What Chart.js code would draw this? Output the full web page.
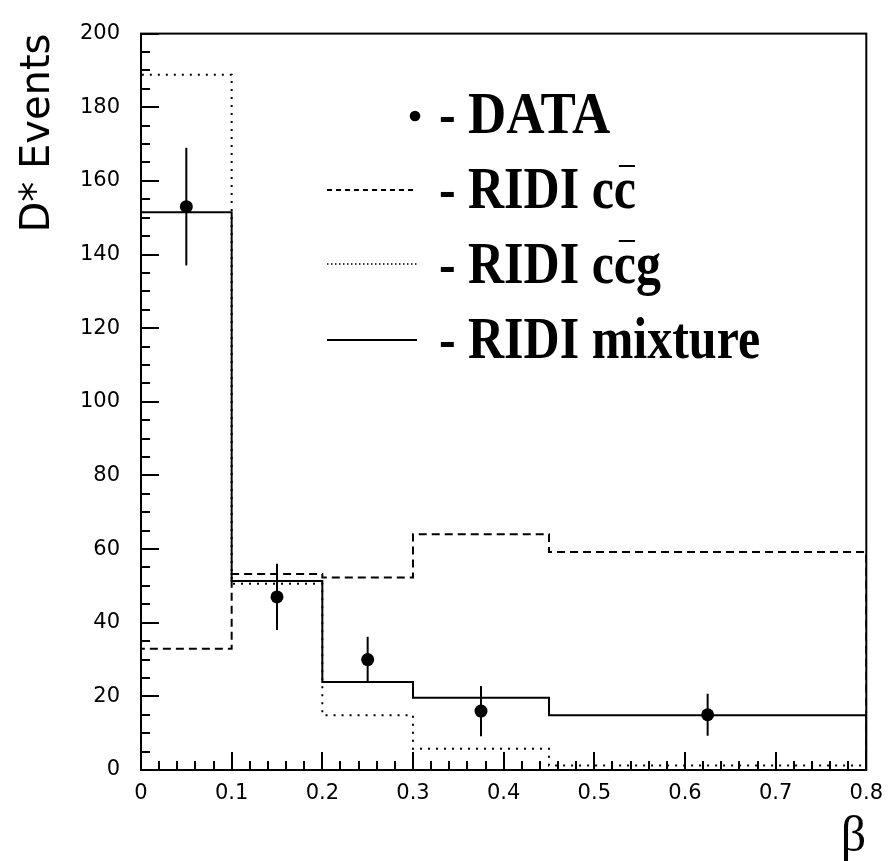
<!DOCTYPE html>
<html>
<head>
<meta charset="utf-8">
<script src="https://cdn.jsdelivr.net/npm/chart.js@4/dist/chart.umd.min.js"></script>
<style>
  html, body { margin: 0; padding: 0; background: #ffffff; }
  #wrap { width: 894px; height: 861px; position: relative; }
</style>
</head>
<body>
<div id="wrap"><canvas id="c" width="894" height="861"></canvas></div>
<script>
// ---- Data ----
const binEdges = [0, 0.1, 0.2, 0.3, 0.45, 0.8];
const ccValues = [32.9, 53.2, 52.3, 64.0, 59.2];       // RIDI c c-bar (dashed)
const ccgValues = [188.8, 50.6, 14.9, 5.8, 1.2];       // RIDI c c-bar g (dotted)
const mixtureValues = [151.5, 51.3, 23.9, 19.6, 14.9]; // RIDI mixture (solid)
const dataX = [0.05, 0.15, 0.25, 0.375, 0.625];
const dataY = [153, 47, 30, 16, 15];
const dataErr = [16, 9, 6.2, 6.8, 5.7];
const xRange = [0, 0.8];
const yRange = [0, 200];
const xTickStep = 0.1, xMinorStep = 0.02;
const yTickStep = 20, yMinorStep = 5;
const yTitle = 'D* Events';
const xTitle = 'β';
const legendLabels = ['- DATA', '- RIDI cc', '- RIDI ccg', '- RIDI mixture'];

// ---- helpers ----
function histPoints(edges, vals) {
  const pts = [{x: edges[0], y: 0}];
  for (let i = 0; i < vals.length; i++) pts.push({x: edges[i], y: vals[i]});
  pts.push({x: edges[edges.length - 1], y: vals[vals.length - 1]});
  pts.push({x: edges[edges.length - 1], y: 0});
  return pts;
}
function errorPoints(xs, ys, es) {
  const pts = [];
  for (let i = 0; i < xs.length; i++) {
    pts.push({x: xs[i], y: ys[i] - es[i]});
    pts.push({x: xs[i], y: ys[i] + es[i]});
    pts.push({x: xs[i], y: null});
  }
  return pts;
}

// ---- plugin: frame + inward major/minor ticks ----
const framePlugin = {
  id: 'frameTicks',
  afterDatasetsDraw(chart) {
    const {ctx, chartArea: a, scales} = chart;
    const xs = scales.x, ys = scales.y;
    ctx.save();
    ctx.strokeStyle = '#000';
    ctx.lineWidth = 2;
    ctx.strokeRect(a.left, a.top, a.right - a.left, a.bottom - a.top);
    ctx.beginPath();
    const nX = Math.round((xRange[1] - xRange[0]) / xMinorStep);
    const perX = Math.round(xTickStep / xMinorStep);
    for (let i = 0; i <= nX; i++) {
      const v = xRange[0] + i * xMinorStep;
      const px = Math.round(xs.getPixelForValue(v));
      const len = (i % perX === 0) ? 18 : 9;
      ctx.moveTo(px, a.bottom);
      ctx.lineTo(px, a.bottom - len);
    }
    const nY = Math.round((yRange[1] - yRange[0]) / yMinorStep);
    const perY = Math.round(yTickStep / yMinorStep);
    for (let i = 0; i <= nY; i++) {
      const v = yRange[0] + i * yMinorStep;
      const py = Math.round(ys.getPixelForValue(v));
      const len = (i % perY === 0) ? 18 : 9;
      ctx.moveTo(a.left, py);
      ctx.lineTo(a.left + len, py);
    }
    ctx.stroke();
    ctx.restore();
  }
};

// ---- plugin: legend in ROOT style ----
const legendPlugin = {
  id: 'rootLegend',
  afterDraw(chart) {
    const {ctx} = chart;
    const textX = 468, dashX = 439;
    const baselines = [133, 208, 283, 358];
    const sampleY = [116, 190, 264, 340];
    const sx0 = 327, sx1 = 417;
    const font = 'bold 50px "Liberation Serif", "Times New Roman", serif';
    const sy = 1.2;
    ctx.save();
    ctx.fillStyle = '#000';
    ctx.strokeStyle = '#000';
    ctx.font = font;
    ctx.textAlign = 'left';
    ctx.textBaseline = 'alphabetic';
    function txt(s, x, y, sx) {
      ctx.save();
      ctx.translate(x, y);
      ctx.scale(sx || 1, sy);
      ctx.fillText(s, 0, 0);
      ctx.restore();
    }
    for (let i = 0; i < legendLabels.length; i++) {
      const s = legendLabels[i];
      txt('-', dashX, baselines[i]);
      txt(s.slice(2), textX, baselines[i], i === 0 ? 1.06 : 1);
    }
    // overbars on the second c of rows 2,3
    const pre = 'RIDI c';
    const wPre = ctx.measureText(pre).width;
    const wc = ctx.measureText('c').width;
    ctx.lineWidth = 2;
    [1, 2].forEach(i => {
      const x0 = textX + wPre + 5, x1 = textX + wPre + wc - 1;
      const y = baselines[i] - 42;
      ctx.beginPath(); ctx.moveTo(x0, y); ctx.lineTo(x1, y); ctx.stroke();
    });
    // sample: DATA dot
    ctx.beginPath(); ctx.arc(415, sampleY[0], 5.3, 0, Math.PI * 2); ctx.fill();
    // sample: cc dashed
    ctx.lineWidth = 2;
    ctx.setLineDash([5, 4]);
    ctx.beginPath(); ctx.moveTo(sx0, sampleY[1]); ctx.lineTo(sx1, sampleY[1]); ctx.stroke();
    // sample: ccg dotted
    ctx.lineWidth = 1.5;
    ctx.setLineDash([1.5, 2.5]);
    ctx.beginPath(); ctx.moveTo(sx0, sampleY[2]); ctx.lineTo(sx1, sampleY[2]); ctx.stroke();
    // sample: mixture solid
    ctx.lineWidth = 2;
    ctx.setLineDash([]);
    ctx.beginPath(); ctx.moveTo(sx0, sampleY[3]); ctx.lineTo(sx1, sampleY[3]); ctx.stroke();
    ctx.restore();
  }
};

const tickFont = {family: '"DejaVu Sans", sans-serif', size: 21};

new Chart(document.getElementById('c'), {
  type: 'line',
  data: {
    datasets: [
      {
        label: 'RIDI cc',
        data: histPoints(binEdges, ccValues),
        stepped: 'before',
        borderColor: '#000', borderWidth: 2, borderDash: [8, 5],
        pointRadius: 0, fill: false
      },
      {
        label: 'RIDI ccg',
        data: histPoints(binEdges, ccgValues),
        stepped: 'before',
        borderColor: '#000', borderWidth: 2, borderDash: [2, 6],
        pointRadius: 0, fill: false
      },
      {
        label: 'RIDI mixture',
        data: histPoints(binEdges, mixtureValues),
        stepped: 'before',
        borderColor: '#000', borderWidth: 2,
        pointRadius: 0, fill: false
      },
      {
        label: 'errors',
        data: errorPoints(dataX, dataY, dataErr),
        borderColor: '#000', borderWidth: 2,
        pointRadius: 0, spanGaps: false, fill: false
      },
      {
        label: 'DATA',
        data: dataX.map((x, i) => ({x: x, y: dataY[i]})),
        showLine: false,
        pointRadius: 6.5, pointStyle: 'circle',
        pointBackgroundColor: '#000', pointBorderColor: '#000', pointBorderWidth: 0
      }
    ]
  },
  options: {
    responsive: false,
    animation: false,
    devicePixelRatio: 1,
    events: [],
    layout: {padding: {left: 0, top: 23, right: 25, bottom: 0}},
    plugins: {legend: {display: false}, tooltip: {enabled: false}},
    scales: {
      x: {
        type: 'linear',
        min: xRange[0], max: xRange[1],
        grid: {display: false, drawTicks: false},
        border: {display: false},
        ticks: {stepSize: xTickStep, color: '#000', font: tickFont, padding: 11, maxRotation: 0, autoSkip: false},
        title: {display: true, text: xTitle, align: 'end', color: '#000',
                font: {family: '"Liberation Serif", "Times New Roman", serif', size: 50},
                padding: {top: 0, bottom: -7}},
        afterFit(scale) { scale.height = 91; }
      },
      y: {
        type: 'linear',
        min: yRange[0], max: yRange[1],
        grid: {display: false, drawTicks: false},
        border: {display: false},
        ticks: {stepSize: yTickStep, color: '#000', font: tickFont, padding: 21},
        title: {display: true, text: yTitle, align: 'end', color: '#000',
                font: {family: '"DejaVu Sans", sans-serif', size: 40},
                padding: {top: 15, bottom: 0}},
        afterFit(scale) { scale.width = 141; }
      }
    }
  },
  plugins: [framePlugin, legendPlugin]
});
</script>
</body>
</html>
